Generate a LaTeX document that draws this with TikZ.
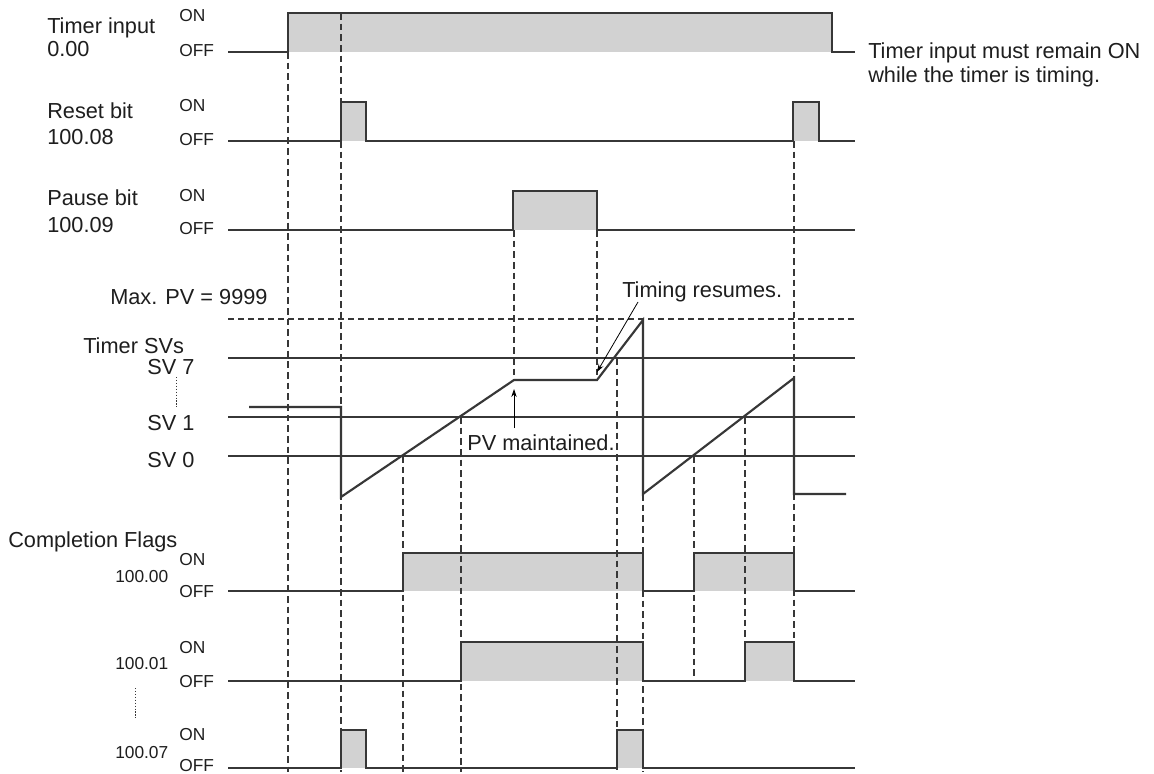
\documentclass[tikz,border=0pt]{standalone}
\usepackage{fontspec}
\setmainfont{Liberation Sans}
\usetikzlibrary{arrows.meta}
\definecolor{ln}{RGB}{55,55,55}
\definecolor{txt}{RGB}{30,30,30}
\definecolor{shd}{RGB}{210,210,210}
\begin{document}
\begin{tikzpicture}[x=0.75pt,y=-0.75pt,
 big/.style={font=\fontsize{16.3}{19}\selectfont, inner sep=0pt, anchor=base west, text=txt},
 small/.style={font=\fontsize{13}{15}\selectfont, inner sep=0pt, anchor=base west, text=txt},
 sig/.style={draw=ln, line width=1.3pt, line join=miter},
 shade/.style={fill=shd, draw=none},
 guide/.style={draw=ln, line width=0.9pt, dash pattern=on 5pt off 3pt},
 maxl/.style={draw=ln, line width=0.9pt, dash pattern=on 4.5pt off 3pt},
 lvl/.style={draw=ln, line width=1pt},
 pv/.style={draw=ln, line width=1.6pt, line join=miter},
 dots/.style={draw=ln, line width=0.7pt, dash pattern=on 1pt off 1.2pt},
 ann/.style={draw=black, line width=0.6pt, -{Stealth[length=6pt,width=4pt]}},
]
\useasboundingbox (0,0) rectangle (1154,774);
\fill[white] (0,0) rectangle (1154,774);

% ---- shaded ON regions ----
\fill[shade] (288,13) rectangle (832,52);
\fill[shade] (341,102) rectangle (366,141);
\fill[shade] (793,102) rectangle (819,141);
\fill[shade] (513,191) rectangle (597,230);
\fill[shade] (403,553) rectangle (643,591);
\fill[shade] (694,553) rectangle (794,591);
\fill[shade] (461,642) rectangle (643,681);
\fill[shade] (745,642) rectangle (794,681);
\fill[shade] (341,730) rectangle (366,768);
\fill[shade] (617,730) rectangle (643,768);

% ---- dashed guide lines ----
\draw[guide] (288,52) -- (288,772);
\draw[guide] (341,13) -- (341,772);
\draw[guide] (403,456) -- (403,772);
\draw[guide] (461,417) -- (461,772);
\draw[guide] (514,230) -- (514,380);
\draw[guide] (597,230) -- (597,380);
\draw[guide] (617,358) -- (617,772);
\draw[guide] (643,494) -- (643,772);
\draw[guide] (694,456) -- (694,681);
\draw[guide] (745,417) -- (745,642);
\draw[guide] (794,141) -- (794,642);

% ---- level lines ----
\draw[maxl] (228,319) -- (855,319);
\draw[lvl] (228,358) -- (855,358);
\draw[lvl] (228,417) -- (855,417);
\draw[lvl] (228,456) -- (855,456);

% ---- signals ----
\draw[sig] (228,52) -- (288,52) -- (288,13) -- (832,13) -- (832,52) -- (855,52);
\draw[sig] (228,141) -- (341,141) -- (341,102) -- (366,102) -- (366,141) -- (793,141) -- (793,102) -- (819,102) -- (819,141) -- (855,141);
\draw[sig] (228,230) -- (513,230) -- (513,191) -- (597,191) -- (597,230) -- (855,230);
\draw[sig] (228,591) -- (403,591) -- (403,553) -- (643,553) -- (643,591) -- (694,591) -- (694,553) -- (794,553) -- (794,591) -- (855,591);
\draw[sig] (228,681) -- (461,681) -- (461,642) -- (643,642) -- (643,681) -- (745,681) -- (745,642) -- (794,642) -- (794,681) -- (855,681);
\draw[sig] (228,768) -- (341,768) -- (341,730) -- (366,730) -- (366,768) -- (617,768) -- (617,730) -- (643,730) -- (643,768) -- (855,768);

% ---- present value curve ----
\draw[pv] (249,407) -- (341,407) -- (341,497) -- (514,380) -- (597,380) -- (643,320) -- (643,494) -- (794,378) -- (794,494) -- (846,494);

% ---- labels ----
\node[big] (ti) at (47,34) {Timer input};
\node[big] (ti2) at (47,57) {0.00};
\node[small] (tion) at (179,22) {ON};
\node[small] (tioff) at (179,57) {OFF};

\node[big] (rb) at (47,118) {Reset bit};
\node[big] (rb2) at (47,145) {100.08};
\node[small] (rbon) at (179,112) {ON};
\node[small] (rboff) at (179,146) {OFF};

\node[big] (pb) at (47,205) {Pause bit};
\node[big] (pb2) at (47,232) {100.09};
\node[small] (pbon) at (179,201) {ON};
\node[small] (pboff) at (179,234) {OFF};

\node[big] (mx) at (110,304) {Max. PV = 9999};
\node[big] (tsv) at (83,353) {Timer SVs};
\node[big] (sv7) at (147,374) {SV 7};
\node[big] (sv1) at (147,430) {SV 1};
\node[big] (sv0) at (147,467) {SV 0};
\draw[dots] (176,377) -- (176,407);

\node[big] (cf) at (8,547) {Completion Flags};
\node[small] (f0) at (115,582) {100.00};
\node[small] (f0on) at (179,565) {ON};
\node[small] (f0off) at (179,597) {OFF};
\node[small] (f1) at (115,669) {100.01};
\node[small] (f1on) at (179,653) {ON};
\node[small] (f1off) at (179,687) {OFF};
\draw[dots] (135,688) -- (135,718);
\node[small] (f7) at (115,758) {100.07};
\node[small] (f7on) at (179,740) {ON};
\node[small] (f7off) at (179,771) {OFF};

\node[big] (note1) at (868,59) {Timer input must remain ON};
\node[big] (note2) at (868,83) {while the timer is timing.};

\node[big] (tr) at (622,297) {Timing resumes.};
\coordinate (trs) at (638,302);
\coordinate (tre) at (597,372);
\draw[ann] (trs) -- (tre);

\node[big] (pvm) at (467,450) {PV maintained.};
\coordinate (pvs) at (514,428);
\coordinate (pve) at (514,389);
\draw[ann] (pvs) -- (pve);
\end{tikzpicture}
\end{document}
